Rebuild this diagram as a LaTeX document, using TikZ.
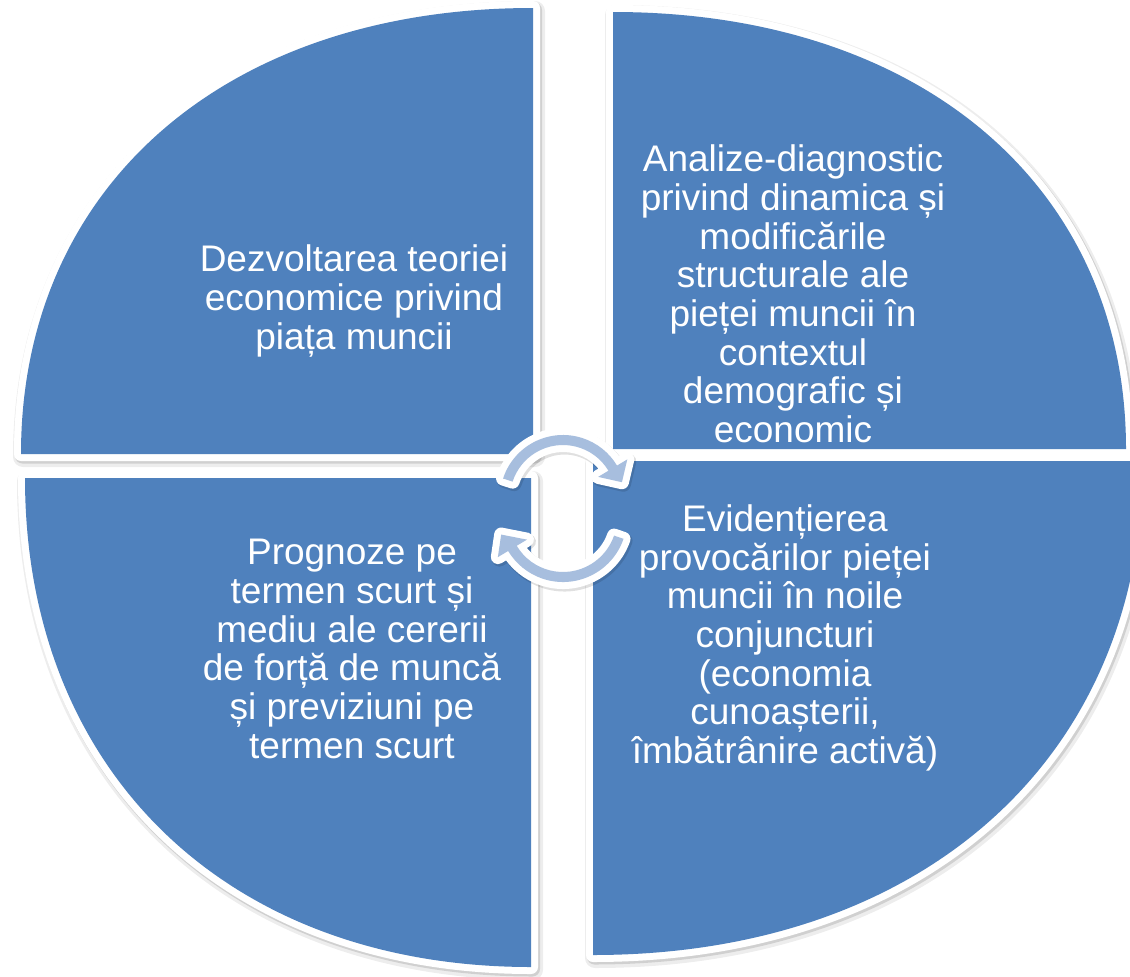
\documentclass[tikz,border=0pt]{standalone}
\usepackage{fontspec}
\setmainfont{Liberation Sans}
\usetikzlibrary{calc}
\definecolor{qblue}{RGB}{79,129,189}
\definecolor{arrblue}{RGB}{167,190,222}
\newcommand\qTL[1]{\path[#1] (533,454) -- (21,454) .. controls (21,186.4) and (225.8,8) .. (533,8) -- cycle;}
\newcommand\qTR[1]{\path[#1] (613,449) -- (613,12) .. controls (920.8,12) and (1126,186.8) .. (1126,449) -- cycle;}
\newcommand\qBL[1]{\path[#1] (531,478) -- (25,478) .. controls (25,771.4) and (227.4,967) .. (531,967) -- cycle;}
\newcommand\qBR[1]{\path[#1] (593,461) -- (1143,461) .. controls (1143,757.4) and (923,955) .. (593,955) -- cycle;}
\newcommand\arrTop[1]{\path[#1] ($(563,498)+(-162:63)$) arc[start angle=-162,end angle=-31,radius=63] -- ($(563,498)+(-31:75)$) -- ($(563,498)+(-15:61)$) -- ($(563,498)+(-31:41)$) -- ($(563,498)+(-31:53)$) arc[start angle=-31,end angle=-162,radius=53] -- cycle;}
\newcommand\arrBot[1]{\path[#1] ($(563,518)+(19:64)$) arc[start angle=19,end angle=149,radius=64] -- ($(563,518)+(149:76)$) -- ($(563,518)+(165:64)$) -- ($(563,518)+(149:42)$) -- ($(563,518)+(149:54)$) arc[start angle=149,end angle=19,radius=54] -- cycle;}
\tikzset{
  shadowA/.style={draw=black, draw opacity=0.07, line width=20, line join=round},
  shadowB/.style={draw=black, draw opacity=0.12, line width=15, line join=round},
  rim/.style={draw=white, fill=white, line width=14, line join=round},
  qfill/.style={fill=qblue},
  afill/.style={fill=arrblue},
  qtext/.style={text=white, align=center, font=\fontsize{37}{38.7}\selectfont, inner sep=0pt}
}
\begin{document}
\begin{tikzpicture}[x=1pt,y=-1pt]
\useasboundingbox (0,0) rectangle (1130,977);
\clip (0,0) rectangle (1130,977);
% soft shadows
\begin{scope}[shift={(2,3)}]
  \qTL{shadowA}\qTR{shadowA}\qBL{shadowA}\qBR{shadowA}
\end{scope}
\begin{scope}[shift={(1.5,2)}]
  \qTL{shadowB}\qTR{shadowB}\qBL{shadowB}\qBR{shadowB}
\end{scope}
% white rims
\qTL{rim}\qTR{rim}\qBL{rim}\qBR{rim}
% blue quadrants
\qTL{qfill}\qTR{qfill}\qBL{qfill}\qBR{qfill}
% texts
\node[qtext] (tl) at (354,301) {Dezvoltarea teoriei\\economice privind\\piața muncii};
\node[qtext] (tr) at (793,294) {Analize-diagnostic\\privind dinamica și\\modificările\\structurale ale\\pieței muncii în\\contextul\\demografic și\\economic};
\node[qtext] (bl) at (352,649) {Prognoze pe\\termen scurt și\\mediu ale cererii\\de forță de muncă\\și previziuni pe\\termen scurt};
\node[qtext] (br) at (785,638) {Evidențierea\\provocărilor pieței\\muncii în noile\\conjuncturi\\(economia\\cunoașterii,\\îmbătrânire activă)};
% central cycle arrows
\begin{scope}[shift={(1.5,2)}]
  \arrTop{shadowB}\arrBot{shadowB}
\end{scope}
\arrTop{rim}\arrBot{rim}
\arrTop{afill}\arrBot{afill}
\end{tikzpicture}
\end{document}
